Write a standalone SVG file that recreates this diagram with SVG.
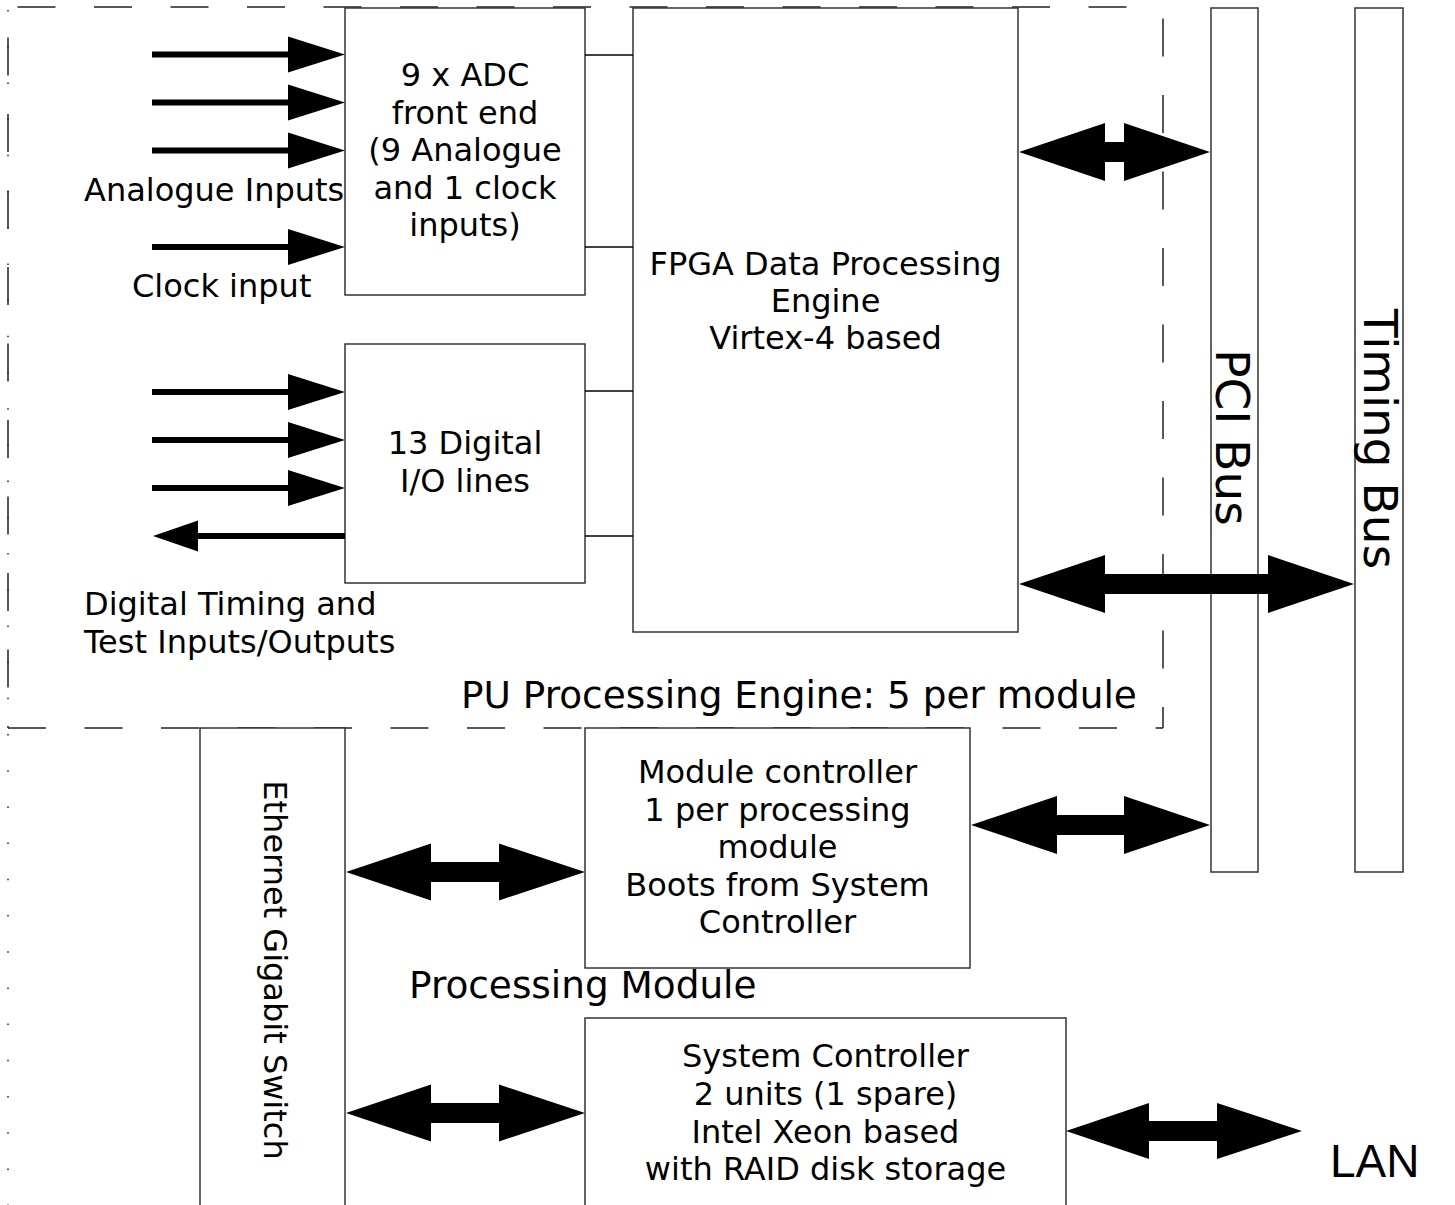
<svg xmlns="http://www.w3.org/2000/svg" width="1455" height="1205" viewBox="0 0 1455 1205">
<style>
  text { font-family: "DejaVu Sans", "Liberation Sans", sans-serif; fill: #000; }
  .t32 { font-size: 32px; }
  .t37 { font-size: 37.4px; }
  .t47 { font-size: 47px; }
  .mid { text-anchor: middle; }
  .box { fill: #fff; stroke: #333; stroke-width: 1.5; }
  .dash { fill: none; stroke: #222; stroke-width: 1.5; stroke-dasharray: 38 38.5; }
  .dot { fill: none; stroke: #222; stroke-width: 1.5; stroke-dasharray: 1.5 34.7; }
  .link { stroke: #000; stroke-width: 1.3; fill: none; }
  .arr { fill: #000; stroke: none; }
</style>
<rect width="1455" height="1205" fill="#fff"/>

<g id="boundaries">
  <line class="dot" x1="8" y1="10" x2="8" y2="1205"/>
  <line class="dash" x1="8" y1="7" x2="1163" y2="7" stroke-dashoffset="67"/>
  <line class="dash" x1="8" y1="7" x2="8" y2="728" stroke-dashoffset="46"/>
  <line class="dash" x1="8" y1="728" x2="1163" y2="728"/>
  <line class="dash" x1="1163" y1="728" x2="1163" y2="7" stroke-dashoffset="17"/>
</g>

<g id="adc">
  <rect class="box" x="345" y="8" width="240" height="287"/>
  <text class="t32 mid" x="465" y="86">9 x ADC</text>
  <text class="t32 mid" x="465" y="123.5">front end</text>
  <text class="t32 mid" x="465" y="161">(9 Analogue</text>
  <text class="t32 mid" x="465" y="198.5">and 1 clock</text>
  <text class="t32 mid" x="465" y="236">inputs)</text>
</g>

<g id="digital">
  <rect class="box" x="345" y="344" width="240" height="239"/>
  <text class="t32 mid" x="465" y="454">13 Digital</text>
  <text class="t32 mid" x="465" y="492">I/O lines</text>
</g>

<g id="fpga">
  <rect class="box" x="633" y="8" width="385" height="624"/>
  <text class="t32 mid" x="825.5" y="275">FPGA Data Processing</text>
  <text class="t32 mid" x="825.5" y="312">Engine</text>
  <text class="t32 mid" x="825.5" y="349">Virtex-4 based</text>
</g>

<g id="pci-bus">
  <rect class="box" x="1211" y="8" width="47" height="864"/>
  <text class="t47 mid" x="1216" y="437.5" transform="rotate(90 1216 437.5)">PCI Bus</text>
</g>

<g id="timing-bus">
  <rect class="box" x="1355" y="8" width="48" height="864"/>
  <text class="t47 mid" x="1364" y="439" transform="rotate(90 1364 439)">Timing Bus</text>
</g>

<g id="ethernet-switch">
  <rect class="box" x="200" y="728" width="145" height="490"/>
  <text class="t32 mid" x="264" y="970" transform="rotate(90 264 970)">Ethernet Gigabit Switch</text>
</g>

<g id="module-controller">
  <rect class="box" x="585" y="728" width="385" height="240"/>
  <text class="t32 mid" x="777.5" y="783">Module controller</text>
  <text class="t32 mid" x="777.5" y="820.5">1 per processing</text>
  <text class="t32 mid" x="777.5" y="858">module</text>
  <text class="t32 mid" x="777.5" y="895.5">Boots from System</text>
  <text class="t32 mid" x="777.5" y="933">Controller</text>
</g>

<g id="system-controller">
  <rect class="box" x="585" y="1018" width="481" height="200"/>
  <text class="t32 mid" x="825.5" y="1067">System Controller</text>
  <text class="t32 mid" x="825.5" y="1105">2 units (1 spare)</text>
  <text class="t32 mid" x="825.5" y="1143">Intel Xeon based</text>
  <text class="t32 mid" x="825.5" y="1180">with RAID disk storage</text>
</g>

<g id="labels">
  <text class="t32" x="84" y="201">Analogue Inputs</text>
  <text class="t32" x="132" y="297">Clock input</text>
  <text class="t32" x="84" y="615">Digital Timing and</text>
  <text class="t32" x="84" y="652.5">Test Inputs/Outputs</text>
  <text class="t37" x="461" y="708">PU Processing Engine: 5 per module</text>
  <text class="t37" x="409" y="998">Processing Module</text>
  <text x="1330" y="1177" style="font-family:'Liberation Sans', Arial, sans-serif; font-size:46px">LAN</text>
</g>

<g id="connectors">
  <line class="link" x1="585" y1="55" x2="633" y2="55"/>
  <line class="link" x1="585" y1="247" x2="633" y2="247"/>
  <line class="link" x1="585" y1="391" x2="633" y2="391"/>
  <line class="link" x1="585" y1="536" x2="633" y2="536"/>

  <polygon class="arr" points="152,51.5 288,51.5 288,36.5 345,54.5 288,72.5 288,57.5 152,57.5"/>
  <polygon class="arr" points="152,99.5 288,99.5 288,84.5 345,102.5 288,120.5 288,105.5 152,105.5"/>
  <polygon class="arr" points="152,147.5 288,147.5 288,132.5 345,150.5 288,168.5 288,153.5 152,153.5"/>
  <polygon class="arr" points="152,244 288,244 288,229 345,247 288,265 288,250 152,250"/>

  <polygon class="arr" points="152,389 288,389 288,374 345,392 288,410 288,395 152,395"/>
  <polygon class="arr" points="152,437 288,437 288,422 345,440 288,458 288,443 152,443"/>
  <polygon class="arr" points="152,485 288,485 288,470 345,488 288,506 288,491 152,491"/>
  <polygon class="arr" points="345,533 198,533 198,520.5 153,536 198,551.5 198,539 345,539"/>

  <polygon class="arr" points="1019,152 1105,123 1105,142 1124,142 1124,123 1210,152 1124,181 1124,162 1105,162 1105,181"/>
  <polygon class="arr" points="1019,584 1105,555 1105,574 1268,574 1268,555 1354,584 1268,613 1268,594 1105,594 1105,613"/>
  <polygon class="arr" points="971,825 1057,796 1057,815 1124,815 1124,796 1210,825 1124,854 1124,835 1057,835 1057,854"/>
  <polygon class="arr" points="346,872 431,843.5 431,862 499,862 499,843.5 585,872 499,900.5 499,882 431,882 431,900.5"/>
  <polygon class="arr" points="346,1113 431,1084.5 431,1103 499,1103 499,1084.5 585,1113 499,1141.5 499,1123 431,1123 431,1141.5"/>
  <polygon class="arr" points="1066,1131 1149,1103 1149,1121 1217,1121 1217,1103 1302,1131 1217,1159 1217,1141 1149,1141 1149,1159"/>
</g>
</svg>
